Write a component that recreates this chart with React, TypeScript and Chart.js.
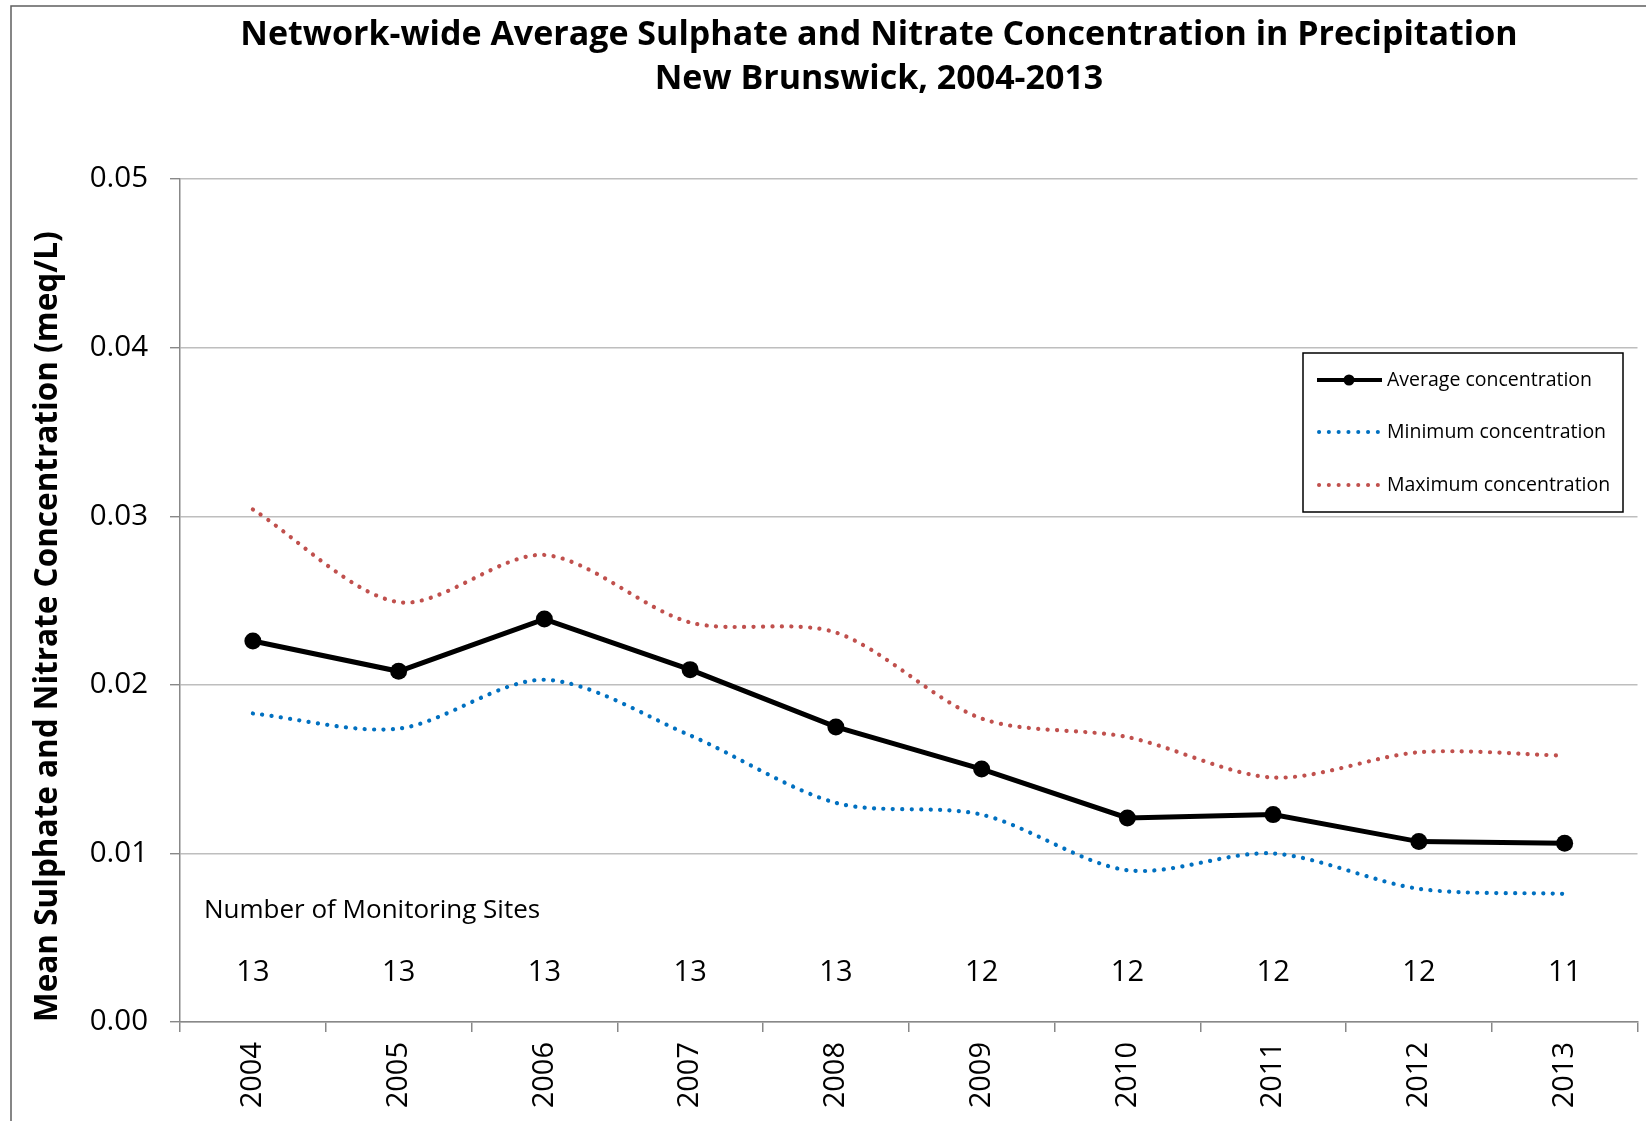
import React, { useEffect, useRef } from 'react';
import { Chart, registerables } from 'chart.js';

Chart.register(...registerables);

// ---------- data ----------
const years = ['2004', '2005', '2006', '2007', '2008', '2009', '2010', '2011', '2012', '2013'];
const averageConcentration = [0.0226, 0.0208, 0.0239, 0.0209, 0.0175, 0.015, 0.0121, 0.0123, 0.0107, 0.0106];
const minimumConcentration = [0.0183, 0.0174, 0.0203, 0.017, 0.013, 0.0123, 0.009, 0.01, 0.0079, 0.0076];
const maximumConcentration = [0.0304, 0.0249, 0.0277, 0.0237, 0.0231, 0.018, 0.0169, 0.0145, 0.016, 0.0158];
const monitoringSites = [13, 13, 13, 13, 13, 12, 12, 12, 12, 11];
const yTickValues = [0, 0.01, 0.02, 0.03, 0.04, 0.05];

const titleLines = [
  'Network-wide Average Sulphate and Nitrate Concentration in Precipitation',
  'New Brunswick, 2004-2013',
];
const yAxisTitle = 'Mean Sulphate and Nitrate Concentration (meq/L)';
const sitesCaption = 'Number of Monitoring Sites';
const seriesLabels = ['Average concentration', 'Minimum concentration', 'Maximum concentration'];

const FONT = '"Open Sans", "Noto Sans", sans-serif';
const W = 1646;
const H = 1121;

// ---------- plugins ----------
const framePlugin = {
  id: 'frame',
  beforeDraw(chart: any) {
    const ctx = chart.ctx;
    ctx.save();
    ctx.fillStyle = '#ffffff';
    ctx.fillRect(0, 0, chart.width, chart.height);
    ctx.strokeStyle = '#5f5f5f';
    ctx.lineWidth = 1.5;
    ctx.beginPath();
    ctx.moveTo(11, chart.height);
    ctx.lineTo(11, 6);
    ctx.lineTo(chart.width, 6);
    ctx.stroke();
    ctx.restore();
  },
};

const titlePlugin = {
  id: 'customTitle',
  afterDraw(chart: any) {
    const ctx = chart.ctx;
    ctx.save();
    ctx.fillStyle = '#000';
    ctx.font = `bold 34px ${FONT}`;
    ctx.textAlign = 'center';
    ctx.textBaseline = 'middle';
    ctx.fillText(titleLines[0], 879, 35);
    ctx.fillText(titleLines[1], 879, 79);
    ctx.restore();
  },
};

const sitesPlugin = {
  id: 'sites',
  afterDatasetsDraw(chart: any) {
    const ctx = chart.ctx;
    const xs = chart.scales.x;
    const ys = chart.scales.y;
    ctx.save();
    ctx.fillStyle = '#000';
    ctx.textBaseline = 'middle';
    ctx.font = `26px ${FONT}`;
    ctx.textAlign = 'left';
    ctx.fillText(sitesCaption, chart.chartArea.left + 24, ys.getPixelForValue(0.0066));
    ctx.font = `29px ${FONT}`;
    ctx.textAlign = 'center';
    monitoringSites.forEach((n, i) => {
      ctx.fillText(String(n), xs.getPixelForValue(i), ys.getPixelForValue(0.0029));
    });
    ctx.restore();
  },
};

const legendPlugin = {
  id: 'boxLegend',
  afterDraw(chart: any) {
    const ctx = chart.ctx;
    const bx = 1303, by = 353, bw = 320, bh = 159;
    const rows = [380, 432, 485];
    ctx.save();
    ctx.fillStyle = '#fff';
    ctx.fillRect(bx, by, bw, bh);
    ctx.strokeStyle = '#000';
    ctx.lineWidth = 1.5;
    ctx.strokeRect(bx, by, bw, bh);
    chart.data.datasets.forEach((ds: any, i: number) => {
      const y = rows[i];
      ctx.save();
      ctx.strokeStyle = ds.borderColor;
      ctx.lineCap = 'round';
      if (ds.borderDash && ds.borderDash.length) {
        ctx.lineWidth = 4;
        ctx.setLineDash([0.1, 9.7]);
        ctx.beginPath();
        ctx.moveTo(1319, y);
        ctx.lineTo(1379, y);
        ctx.stroke();
      } else {
        ctx.lineWidth = 4;
        ctx.lineCap = 'butt';
        ctx.beginPath();
        ctx.moveTo(1317, y);
        ctx.lineTo(1382, y);
        ctx.stroke();
      }
      ctx.restore();
      if (ds.pointRadius > 0) {
        ctx.fillStyle = ds.pointBackgroundColor;
        ctx.beginPath();
        ctx.arc(1349, y, 5.5, 0, Math.PI * 2);
        ctx.fill();
      }
      ctx.fillStyle = '#000';
      ctx.font = `19.5px ${FONT}`;
      ctx.textAlign = 'left';
      ctx.textBaseline = 'middle';
      ctx.fillText(ds.label, 1387, y);
    });
    ctx.restore();
  },
};

export default function App() {
  const canvasRef = useRef<HTMLCanvasElement | null>(null);

  useEffect(() => {
    document.body.style.margin = '0';
    const canvas = canvasRef.current;
    if (!canvas) return;
    const chart = new Chart(canvas, {
      type: 'line',
      data: {
        labels: years,
        datasets: [
          {
            label: seriesLabels[0],
            data: averageConcentration,
            borderColor: '#000000',
            backgroundColor: '#000000',
            borderWidth: 5,
            pointRadius: 8.5,
            pointHoverRadius: 8.5,
            pointBackgroundColor: '#000000',
            pointBorderWidth: 0,
            tension: 0,
            order: 0,
          },
          {
            label: seriesLabels[1],
            data: minimumConcentration,
            borderColor: '#0070C0',
            backgroundColor: '#0070C0',
            borderWidth: 4.2,
            borderDash: [0.1, 9.3],
            borderCapStyle: 'round',
            pointRadius: 0,
            tension: 0.3,
            order: 1,
          },
          {
            label: seriesLabels[2],
            data: maximumConcentration,
            borderColor: '#C0504D',
            backgroundColor: '#C0504D',
            borderWidth: 4.2,
            borderDash: [0.1, 9.3],
            borderCapStyle: 'round',
            pointRadius: 0,
            tension: 0.3,
            order: 2,
          },
        ] as any,
      },
      options: {
        responsive: false,
        animation: false,
        devicePixelRatio: 1,
        layout: { padding: { top: 179, right: 4, left: 0, bottom: 0 } },
        plugins: {
          legend: { display: false },
          title: { display: false },
          tooltip: { enabled: false },
        },
        scales: {
          x: {
            type: 'category',
            offset: true,
            afterFit: (s: any) => {
              s.height = 99;
              s.paddingLeft = 0;
              s.paddingRight = 0;
            },
            grid: {
              display: true,
              drawOnChartArea: false,
              drawTicks: true,
              tickLength: 10,
              offset: true,
              tickColor: '#888888',
              lineWidth: 1.5,
            },
            border: { display: true, color: '#888888', width: 1.5 },
            ticks: {
              autoSkip: false,
              maxRotation: 90,
              minRotation: 90,
              padding: 10,
              color: '#000',
              font: { family: FONT, size: 29 },
            },
          },
          y: {
            min: 0,
            max: 0.05,
            afterFit: (s: any) => {
              s.width = 180;
            },
            afterBuildTicks: (s: any) => {
              s.ticks = yTickValues.map((v) => ({ value: v }));
            },
            grid: {
              color: '#BEBEBE',
              lineWidth: 1.4,
              drawTicks: true,
              tickLength: 10,
              tickColor: '#888888',
            },
            border: { display: true, color: '#888888', width: 1.5 },
            ticks: {
              padding: 22,
              color: '#000',
              font: { family: FONT, size: 29.5 },
              callback: (v: any) => Number(v).toFixed(2),
            },
            title: {
              display: true,
              text: yAxisTitle,
              align: 'start',
              color: '#000',
              font: { family: FONT, size: 31.5, weight: 'bold' },
              padding: { top: 29, bottom: 0 },
            },
          },
        },
      } as any,
      plugins: [framePlugin, sitesPlugin, legendPlugin, titlePlugin],
    });
    return () => {
      chart.destroy();
    };
  }, []);

  return (
    <div style={{ width: W, height: H }}>
      <canvas ref={canvasRef} width={W} height={H} style={{ display: 'block', width: W, height: H }} />
    </div>
  );
}
